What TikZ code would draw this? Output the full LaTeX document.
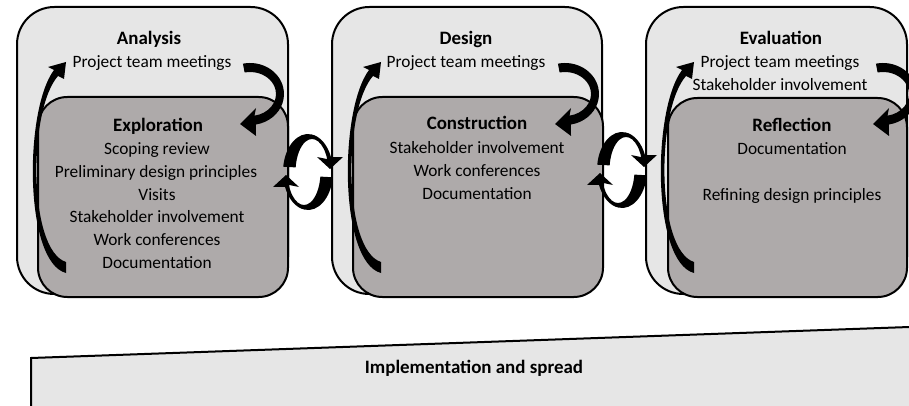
\documentclass[tikz,border=0pt]{standalone}
\usepackage{fontspec}
\usetikzlibrary{calc}
\setmainfont{Carlito}
\definecolor{outerfill}{HTML}{E6E6E6}
\definecolor{innerfill}{HTML}{AEAAAA}
\begin{document}
\begin{tikzpicture}[x=0.75pt,y=-0.75pt,
  outerbox/.style={fill=outerfill, draw=black, line width=1.5pt, rounded corners=28pt},
  innerbox/.style={fill=innerfill, draw=black, line width=1.5pt, rounded corners=22pt},
  txt/.style={font=\fontsize{13}{15}\selectfont, anchor=base, inner sep=0pt},
  ttl/.style={font=\fontsize{14.2}{16}\selectfont\bfseries, anchor=base, inner sep=0pt},
  arrowfill/.style={fill=black, draw=none}]
\clip (0,0) rectangle (909,406);
\fill[white] (0,0) rectangle (909,406);

% phase boxes
\draw[outerbox] (17,7) rectangle (288,294);
\draw[innerbox] (38,97) rectangle (288,297);
\draw[outerbox] (332,7) rectangle (602,294);
\draw[innerbox] (353,97) rectangle (603,297);
\draw[outerbox] (646,7) rectangle (907,294);
\draw[innerbox] (668,98) rectangle (907,297);

% implementation band
\draw[fill=outerfill, line width=1.5pt] (31,358) -- (915,326.8) -- (915,420) -- (31,420) -- cycle;
\node[ttl] (impl) at (474,373) {Implementation and spread};

% texts box 1
\node[ttl] (analysis) at (149,45) {Analysis};
\node[txt] (ptm1) at (152,68) {Project team meetings};
\node[ttl] (explor) at (158,132) {Exploration};
\node[txt] (e1) at (157,155) {Scoping review};
\node[txt] (e2) at (156,177.5) {Preliminary design principles};
\node[txt] (e3) at (157,200) {Visits};
\node[txt] (e4) at (157,222.5) {Stakeholder involvement};
\node[txt] (e5) at (157,245) {Work conferences};
\node[txt] (e6) at (157,268) {Documentation};

% texts box 2
\node[ttl] (design) at (466,45) {Design};
\node[txt] (ptm2) at (466,68) {Project team meetings};
\node[ttl] (constr) at (477,130) {Construction};
\node[txt] (c1) at (477,153) {Stakeholder involvement};
\node[txt] (c2) at (477,176) {Work conferences};
\node[txt] (c3) at (477,199) {Documentation};

% texts box 3
\node[ttl] (evaluation) at (781,45) {Evaluation};
\node[txt] (ptm3) at (780,68) {Project team meetings};
\node[txt] (sh3) at (780,91) {Stakeholder involvement};
\node[ttl] (reflect) at (792,132) {Reflection};
\node[txt] (r1) at (792,155) {Documentation};
\node[txt] (r2) at (792,200) {Refining design principles};

% arrows inside boxes
\foreach \dx/\ex in {0/0, 315/0, 628/5}{
  \begin{scope}[shift={(\dx,0)}]
    \fill[arrowfill] (66,273) .. controls (24,262) and (24,110) .. (54,70)
      -- (48,67) -- (66,62) -- (64,79) -- (58,76)
      .. controls (28,110) and (28,250) .. (66,262) -- cycle;
  \end{scope}
  \begin{scope}[shift={(\dx+\ex+250,94)}]
    \fill[arrowfill] (258:34 and 31) arc[start angle=258, end angle=440, x radius=34, y radius=31]
      -- (6,42) -- (-10,30) -- (6,14) -- (80:26 and 22)
      arc[start angle=80, end angle=-102, x radius=26, y radius=22] -- cycle;
  \end{scope}
}

% cycle arrows between boxes
\foreach \cx/\cy in {308/172, 622/170}{
  \foreach \rot in {0,180}{
    \begin{scope}[shift={(\cx,\cy)}, rotate=\rot]
      \fill[arrowfill] (188:25 and 38) arc[start angle=188, end angle=337, x radius=25, y radius=38]
        -- (35,-15) -- (22,-3) -- (9,-15) -- ($(4,0)+(337:16.5 and 33)$)
        arc[start angle=337, end angle=188, x radius=16.5, y radius=33] -- cycle;
    \end{scope}
  }
}
\end{tikzpicture}
\end{document}
